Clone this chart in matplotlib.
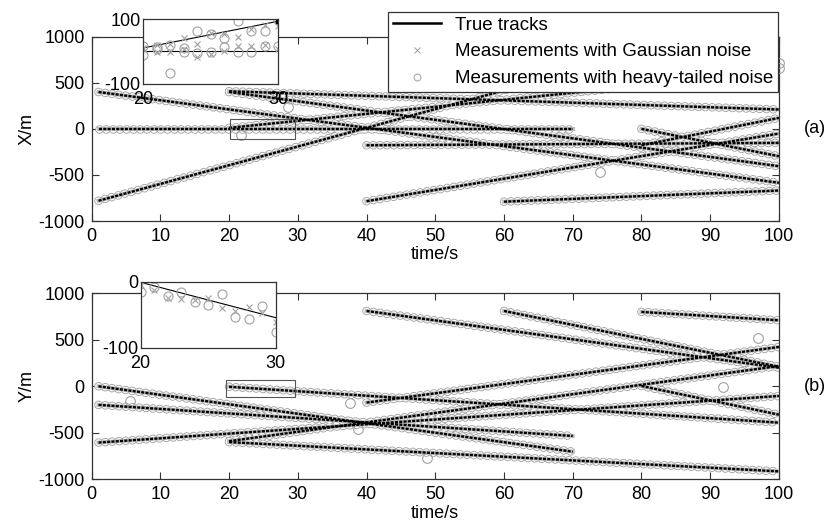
import matplotlib
matplotlib.use("Agg")
import matplotlib.pyplot as plt
from matplotlib.lines import Line2D
from matplotlib.patches import Rectangle

plt.rcParams['font.family'] = ['Liberation Sans', 'DejaVu Sans']
plt.rcParams['lines.scale_dashes'] = False
plt.rcParams['axes.unicode_minus'] = False

# ---------------- data ----------------
# true tracks: birth/death time and start/end positions (m)
track_t0 = [1, 1, 1, 20, 20, 20, 40, 40, 60, 80, 80]
track_t1 = [100, 70, 70, 100, 100, 100, 100, 100, 100, 100, 100]
track_x0 = [400, 0, -780, 408, 400, 11, -785, -178, -790, -178, 0]
track_x1 = [-585, 0, 620, 210, -405, 620, -51, -152, -669, 119, -297]
track_y0 = [-605, 0, -200, -590, -600, -5, 810, -175, 810, 800, 3]
track_y1 = [-104, -703, -534, 218, -915, -391, 200, 423, 210, 710, -305]

# clearly outlying heavy-tailed measurements
out_t = [21.8, 28.6, 74.0, 100.0, 100.0]
out_x = [-62, 239, -471, 665, 720]
out_ty = [5.6, 37.6, 38.8, 48.8, 91.8, 96.9]
out_y = [-157, -176, -462, -767, -8, 514]

# zoomed insets (t = 20..30)
ins_t = [20, 21, 22, 23, 24, 25, 26, 27, 28, 29, 30]
insx_true_a = [11, 94]          # rising track, at t=20 and t=30
insx_true_b = [0.5, 0.5]        # flat track
insx_circ_a = [16.1, 15.0, 19.2, 10.9, 62.7, 54.4, 42.0, 93.8, 62.7, 62.7, 96.9]
insx_circ_b = [-11.9, 6.8, -65.8, -1.5, -3.6, -1.5, 14.0, -1.5, -1.5, 16.1, 16.1]
insx_crs_a = [10.9, 19.2, 22.3, 42.0, 22.3, 58.6, 55.5, 45.1, 71.0, 81.4, 79.3]
insx_crs_b = [8.8, -1.5, -1.5, 6.8, -17.1, -6.7, 1.6, 17.1, 17.1, 19.2, 8.8]
insy_true = [-1, -54.5]
insy_circ = [-15.2, -8.0, -22.0, -16.2, -30.3, -35.4, -18.2, -53.0, -56.6, -36.4, -75.8]
insy_crs = [-5.0, -12.6, -24.2, -26.3, -27.8, -25.3, -40.4, -44.4, -38.4, -48.0, -60.6]

xticks = [0, 10, 20, 30, 40, 50, 60, 70, 80, 90, 100]
yticks = [-1000, -500, 0, 500, 1000]

# ---------------- styling helpers ----------------
RING = (0, (0.001, 4.9))
GRAY = '#a0a0a0'
EDGE = '#333333'


def draw_tracks(ax, y0s, y1s, ot, oy):
    segs = [([a, b], [c, d]) for a, b, c, d in zip(track_t0, track_t1, y0s, y1s)]
    for t, v in segs:
        ax.plot(t, v, color='#a4a4a4', lw=6.2, ls=RING,
                dash_capstyle='round', zorder=2)
    for t, v in segs:
        ax.plot(t, v, color='white', lw=4.9, ls=RING,
                dash_capstyle='round', zorder=3)
    for t, v in segs:
        ax.plot(t, v, color='#bdbdbd', lw=2.9, zorder=4)
    for t, v in segs:
        ax.plot(t, v, color='black', lw=1.7, ls=(0, (2.2, 0.9)), zorder=5)
    ax.plot(ot, oy, 'o', mfc='none', mec=GRAY, ms=7, mew=0.8, zorder=4,
            clip_on=False)


def style_axes(ax, ylabel, tag):
    ax.set_xlim(0, 100)
    ax.set_ylim(-1000, 1000)
    ax.set_xticks(xticks)
    ax.set_yticks(yticks)
    ax.tick_params(direction='in', top=True, right=True, labelsize=13,
                   length=5, width=0.8, color=EDGE, pad=5)
    for s in ax.spines.values():
        s.set_color(EDGE)
        s.set_linewidth(0.9)
    ax.set_xlabel('time/s', fontsize=13, labelpad=1)
    ax.set_ylabel(ylabel, fontsize=13, labelpad=2)
    ax.text(1.037, 0.5, tag, transform=ax.transAxes, fontsize=13,
            ha='left', va='center')


fig = plt.figure(figsize=(8.28, 5.26), dpi=100)
ax1 = fig.add_axes([0.1107, 0.5798, 0.830, 0.3504])
ax2 = fig.add_axes([0.1107, 0.0888, 0.830, 0.3536])

draw_tracks(ax1, track_x0, track_x1, out_t, out_x)
draw_tracks(ax2, track_y0, track_y1, out_ty, out_y)
style_axes(ax1, 'X/m', '(a)')
style_axes(ax2, 'Y/m', '(b)')

ax1.add_patch(Rectangle((20.2, -115), 9.4, 223, fill=False, ec='#555555',
                        lw=0.8, zorder=6))
ax2.add_patch(Rectangle((19.6, -115), 10, 180, fill=False, ec='#555555',
                        lw=0.8, zorder=6))

# ---------------- insets ----------------
in1 = fig.add_axes([0.1731, 0.8409, 0.1630, 0.1224])
in1.plot([20, 30], insx_true_a, color='black', lw=0.8)
in1.plot([20, 30], insx_true_b, color='black', lw=0.8)
in1.plot(ins_t, insx_circ_a, 'o', mfc='none', mec=GRAY, ms=6.5, mew=0.8)
in1.plot(ins_t, insx_circ_b, 'o', mfc='none', mec=GRAY, ms=6.5, mew=0.8)
in1.plot(ins_t, insx_crs_a, 'x', color=GRAY, ms=5, mew=0.8)
in1.plot(ins_t, insx_crs_b, 'x', color=GRAY, ms=5, mew=0.8)
in1.plot([30], [94], 's', color='black', ms=2.5)
in1.set_xlim(20, 30)
in1.set_ylim(-100, 100)
in1.set_xticks([20, 30])
in1.set_yticks([-100, 100])

in2 = fig.add_axes([0.1699, 0.339, 0.1630, 0.1255])
in2.plot([20, 30], insy_true, color='black', lw=0.8)
in2.plot(ins_t, insy_circ, 'o', mfc='none', mec=GRAY, ms=6.5, mew=0.8)
in2.plot(ins_t, insy_crs, 'x', color=GRAY, ms=5, mew=0.8)
in2.set_xlim(20, 30)
in2.set_ylim(-100, 0)
in2.set_xticks([20, 30])
in2.set_yticks([-100, 0])

for ia in (in1, in2):
    ia.set_facecolor('white')
    ia.set_zorder(10)
    ia.tick_params(direction='in', length=0, labelsize=13)
    ia.tick_params(axis='x', pad=5)
    ia.tick_params(axis='y', pad=2)
    for s in ia.spines.values():
        s.set_color(EDGE)
        s.set_linewidth(0.9)
    for lab in ia.get_xticklabels() + ia.get_yticklabels():
        lab.set_clip_on(False)

# ---------------- legend ----------------
handles = [
    Line2D([], [], color='black', lw=1.8),
    Line2D([], [], ls='none', marker='x', color=GRAY, ms=4, mew=0.7),
    Line2D([], [], ls='none', marker='o', mfc='none', mec=GRAY, ms=5, mew=0.7),
]
labels = ['True tracks', 'Measurements with Gaussian noise',
          'Measurements with heavy-tailed noise']
leg = fig.legend(handles, labels, loc='upper left',
                 bbox_to_anchor=(388 / 828, 1 - 11.7 / 526), fontsize=13.5,
                 frameon=True, fancybox=False, framealpha=1,
                 edgecolor=EDGE, handlelength=2.6, handletextpad=0.7,
                 borderpad=0.25, labelspacing=0.52, borderaxespad=0)
leg.get_frame().set_linewidth(0.9)
leg.set_zorder(20)

fig.savefig('out.png', dpi=100)
